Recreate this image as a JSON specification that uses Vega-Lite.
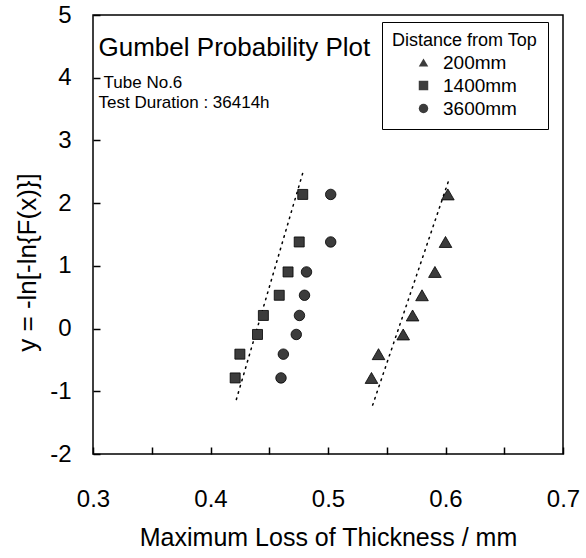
{
  "$schema": "https://vega.github.io/schema/vega-lite/v6.json",
  "autosize": "none",
  "width": 470,
  "height": 439,
  "padding": {"left": 93, "top": 15, "right": 23, "bottom": 104},
  "background": "white",
  "config": {
    "view": {"stroke": "black", "strokeWidth": 1.5},
    "font": "Liberation Sans",
    "axis": {"labelColor": "black", "titleColor": "black", "labelFont": "Liberation Sans", "titleFont": "Liberation Sans"},
    "legend": {"labelFont": "Liberation Sans", "titleFont": "Liberation Sans"}
  },
  "datasets": {
    "points": [
      {"x": 0.537, "y": -0.787, "series": "200mm"},
      {"x": 0.543, "y": -0.408, "series": "200mm"},
      {"x": 0.564, "y": -0.094, "series": "200mm"},
      {"x": 0.572, "y": 0.209, "series": "200mm"},
      {"x": 0.580, "y": 0.531, "series": "200mm"},
      {"x": 0.591, "y": 0.903, "series": "200mm"},
      {"x": 0.600, "y": 1.381, "series": "200mm"},
      {"x": 0.602, "y": 2.139, "series": "200mm"},
      {"x": 0.421, "y": -0.787, "series": "1400mm"},
      {"x": 0.425, "y": -0.408, "series": "1400mm"},
      {"x": 0.440, "y": -0.094, "series": "1400mm"},
      {"x": 0.445, "y": 0.209, "series": "1400mm"},
      {"x": 0.4585, "y": 0.531, "series": "1400mm"},
      {"x": 0.466, "y": 0.903, "series": "1400mm"},
      {"x": 0.4755, "y": 1.381, "series": "1400mm"},
      {"x": 0.4785, "y": 2.139, "series": "1400mm"},
      {"x": 0.460, "y": -0.787, "series": "3600mm"},
      {"x": 0.462, "y": -0.408, "series": "3600mm"},
      {"x": 0.473, "y": -0.094, "series": "3600mm"},
      {"x": 0.4757, "y": 0.209, "series": "3600mm"},
      {"x": 0.480, "y": 0.531, "series": "3600mm"},
      {"x": 0.4817, "y": 0.903, "series": "3600mm"},
      {"x": 0.5023, "y": 1.381, "series": "3600mm"},
      {"x": 0.5023, "y": 2.139, "series": "3600mm"}
    ],
    "fits": [
      {"x": 0.422, "y": -1.13, "fit": "1400mm"},
      {"x": 0.4785, "y": 2.48, "fit": "1400mm"},
      {"x": 0.538, "y": -1.22, "fit": "200mm"},
      {"x": 0.6023, "y": 2.34, "fit": "200mm"}
    ],
    "heading": [
      {"x": 0.3047, "y": 4.354, "text": "Gumbel Probability Plot"}
    ],
    "notes": [
      {"x": 0.309, "y": 3.83, "text": "Tube No.6"},
      {"x": 0.3047, "y": 3.52, "text": "Test Duration : 36414h"}
    ]
  },
  "encoding": {
    "x": {
      "field": "x", "type": "quantitative",
      "scale": {"domain": [0.3, 0.7], "nice": false, "zero": false},
      "axis": {
        "title": "Maximum Loss of Thickness / mm",
        "values": [0.3, 0.35, 0.4, 0.45, 0.5, 0.55, 0.6, 0.65, 0.7],
        "labelExpr": "round(datum.value*100) % 10 == 0 ? format(datum.value, '.1f') : ''",
        "grid": false, "domain": false,
        "tickSize": -7, "tickColor": "black", "tickWidth": 1.5,
        "labelFontSize": 24, "labelPadding": 40, "labelFlush": false, "labelOverlap": false,
        "titleFontSize": 25, "titleFontWeight": "normal", "titlePadding": 14
      }
    },
    "y": {
      "field": "y", "type": "quantitative",
      "scale": {"domain": [-2, 5], "nice": false, "zero": false},
      "axis": {
        "title": "y = -ln[-ln{F(x)}]",
        "values": [-2, -1, 0, 1, 2, 3, 4, 5],
        "labelExpr": "'' + datum.value",
        "grid": false, "domain": false,
        "tickSize": -7, "tickColor": "black", "tickWidth": 1.5,
        "labelFontSize": 24, "labelPadding": 29, "labelFlush": false, "labelOverlap": false,
        "titleFontSize": 26, "titleFontWeight": "normal", "titlePadding": 9, "titleY": 247
      }
    },
    "shape": {
      "field": "series", "type": "nominal",
      "scale": {"domain": ["200mm", "1400mm", "3600mm"], "range": ["triangle-up", "square", "circle"]},
      "legend": {
        "title": "Distance from Top", "orient": "none", "legendX": 289, "legendY": 7,
        "strokeColor": "black", "fillColor": "white", "padding": 10,
        "titleFontSize": 18, "titleFontWeight": "normal", "titleColor": "black", "titlePadding": 3,
        "labelFontSize": 19, "labelColor": "black", "labelOffset": 10,
        "symbolSize": 90, "symbolOffset": 22, "symbolFillColor": "#333", "symbolStrokeColor": "black", "symbolStrokeWidth": 0.5,
        "rowPadding": 3
      }
    }
  },
  "layer": [
    {
      "data": {"name": "fits"},
      "mark": {"type": "line", "color": "black", "strokeWidth": 1.5, "strokeDash": [1.5, 5], "strokeCap": "round"},
      "encoding": {"detail": {"field": "fit"}, "shape": null}
    },
    {
      "data": {"name": "points"},
      "transform": [{"filter": "datum.series == '200mm'"}],
      "mark": {"type": "point", "filled": true, "color": "#3c3c3c", "stroke": "black", "strokeWidth": 0.8, "opacity": 1, "size": 160}
    },
    {
      "data": {"name": "points"},
      "transform": [{"filter": "datum.series == '1400mm'"}],
      "mark": {"type": "point", "filled": true, "color": "#3c3c3c", "stroke": "black", "strokeWidth": 0.8, "opacity": 1, "size": 100}
    },
    {
      "data": {"name": "points"},
      "transform": [{"filter": "datum.series == '3600mm'"}],
      "mark": {"type": "point", "filled": true, "color": "#3c3c3c", "stroke": "black", "strokeWidth": 0.8, "opacity": 1, "size": 110}
    },
    {
      "data": {"name": "heading"},
      "mark": {"type": "text", "align": "left", "baseline": "alphabetic", "fontSize": 26, "color": "black"},
      "encoding": {"text": {"field": "text"}, "shape": null}
    },
    {
      "data": {"name": "notes"},
      "mark": {"type": "text", "align": "left", "baseline": "alphabetic", "fontSize": 17, "color": "black"},
      "encoding": {"text": {"field": "text"}, "shape": null}
    }
  ]
}
